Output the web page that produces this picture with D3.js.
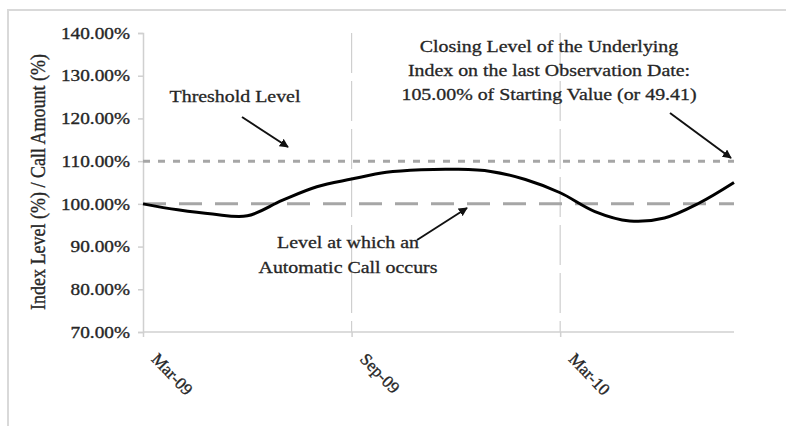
<!DOCTYPE html>
<html><head><meta charset="utf-8">
<script src="https://cdn.jsdelivr.net/npm/d3@7"></script>
<style>
html,body{margin:0;padding:0;background:#fff;}
svg{display:block;}
text{font-family:"Liberation Serif","Times New Roman",serif;}
</style></head>
<body><svg id="c" width="786" height="426"></svg>
<script>
const months = ["Mar-09","Apr-09","May-09","Jun-09","Jul-09","Aug-09","Sep-09","Oct-09","Nov-09","Dec-09","Jan-10","Feb-10","Mar-10","Apr-10","May-10","Jun-10","Jul-10","Aug-10"];
const indexLevel = [100.0, 98.6, 97.6, 97.2, 100.8, 104.0, 105.8, 107.4, 108.0, 108.1, 107.6, 105.7, 102.6, 98.2, 96.0, 96.7, 100.2, 105.0];
const xTickLabels = ["Mar-09","Sep-09","Mar-10"];
const yTicks = [70, 80, 90, 100, 110, 120, 130, 140];
const thresholdLevel = 110;
const callLevel = 100;
const yTitle = "Index Level (%) / Call Amount (%)";

const SX = 1.17; // horizontal stretch of the text as in the reference
const TXT = "#262626";
const svg = d3.select("#c");
const L = 143, R = 734, T = 33, B = 332;
const x = d3.scaleLinear().domain([0, months.length - 1]).range([L, R]);
const y = d3.scaleLinear().domain([70, 140]).range([B, T]);

// outer frame
svg.append("path").attr("d", "M8,426 L8,10 L786,10").attr("fill","none").attr("stroke","#d9d9d9").attr("stroke-width",2);

const defs = svg.append("defs");
defs.append("marker").attr("id","ah").attr("viewBox","0 0 10 10").attr("refX",9).attr("refY",5)
  .attr("markerWidth",9).attr("markerHeight",9).attr("markerUnits","userSpaceOnUse").attr("orient","auto")
  .append("path").attr("d","M0,0 L10,5 L0,10 z").attr("fill","#111");

// vertical gridlines
const tickIdx = xTickLabels.map(l => months.indexOf(l));
svg.append("g").selectAll("line").data(tickIdx.slice(1)).join("line")
  .attr("x1", d => x(d)).attr("x2", d => x(d)).attr("y1", T).attr("y2", B)
  .attr("stroke","#cfcfcf").attr("stroke-width",1.2).attr("stroke-dasharray","40,8");

// y axis
const yAxis = d3.axisLeft(y).tickValues(yTicks).tickSize(5).tickPadding(8).tickFormat(d => d.toFixed(2) + "%");
const gy = svg.append("g").attr("transform", `translate(${L},0)`).call(yAxis);
gy.select(".domain").attr("stroke","#d0d0d0").attr("stroke-width",1.5);
gy.selectAll(".tick line").attr("stroke","#d0d0d0").attr("stroke-width",1.5);
gy.selectAll(".tick text").attr("font-size", 16.5).attr("fill",TXT).attr("font-family","Liberation Serif, serif")
  .attr("stroke",TXT).attr("stroke-width",0.35)
  .attr("x", 0).attr("transform", `translate(-13,0) scale(${SX},1)`);

// x axis
const xAxis = d3.axisBottom(x).tickValues(tickIdx).tickSize(5).tickFormat(d => months[d]);
const gx = svg.append("g").attr("transform", `translate(0,${B})`).call(xAxis);
gx.select(".domain").attr("stroke","#d0d0d0").attr("stroke-width",1.5).attr("d", `M${L},0H${R}`);
gx.selectAll(".tick line").attr("stroke","#d0d0d0").attr("stroke-width",1.5);
gx.selectAll(".tick text").attr("font-size", 17).attr("fill",TXT).attr("font-family","Liberation Serif, serif")
  .attr("stroke",TXT).attr("stroke-width",0.35)
  .attr("text-anchor","start").attr("dy", null).attr("y", null)
  .attr("transform","translate(7,28) rotate(46)");

// reference lines
svg.append("line").attr("x1", L).attr("x2", R).attr("y1", y(thresholdLevel)).attr("y2", y(thresholdLevel))
  .attr("stroke","#a6a6a6").attr("stroke-width",3).attr("stroke-dasharray","7,8");
svg.append("line").attr("x1", L).attr("x2", R).attr("y1", y(callLevel)).attr("y2", y(callLevel))
  .attr("stroke","#a6a6a6").attr("stroke-width",3).attr("stroke-dasharray","23,13");

// index line
const line = d3.line().x((d,i) => x(i)).y(d => y(d)).curve(d3.curveCatmullRom.alpha(0.5));
svg.append("path").datum(indexLevel).attr("d", line).attr("fill","none").attr("stroke","#000").attr("stroke-width",3);

// y title
svg.append("text").attr("transform",`translate(45,182) scale(${SX},1) rotate(-90)`).attr("text-anchor","middle")
  .attr("font-size",18).attr("fill",TXT).attr("stroke",TXT).attr("stroke-width",0.3).text(yTitle);

// annotations
function multi(lines, cx, y0, lh) {
  const t = svg.append("text").attr("text-anchor","middle").attr("font-size",17).attr("fill",TXT)
    .attr("stroke",TXT).attr("stroke-width",0.3)
    .attr("transform", `translate(${cx},0) scale(${SX},1)`);
  lines.forEach((s,i) => t.append("tspan").attr("x", 0).attr("y", y0 + i*lh).text(s));
}
multi(["Threshold Level"], 235, 102, 24);
multi(["Closing Level of the Underlying","Index on the last Observation Date:","105.00% of Starting Value (or 49.41)"], 549, 52, 24);
multi(["Level at which an","Automatic Call occurs"], 348, 248, 25);

function arrow(x1,y1,x2,y2){
  svg.append("line").attr("x1",x1).attr("y1",y1).attr("x2",x2).attr("y2",y2)
    .attr("stroke","#111").attr("stroke-width",2).attr("marker-end","url(#ah)");
}
arrow(242,117,288,147);
arrow(670,113,731,158);
arrow(417,240,467,208);
</script></body></html>
